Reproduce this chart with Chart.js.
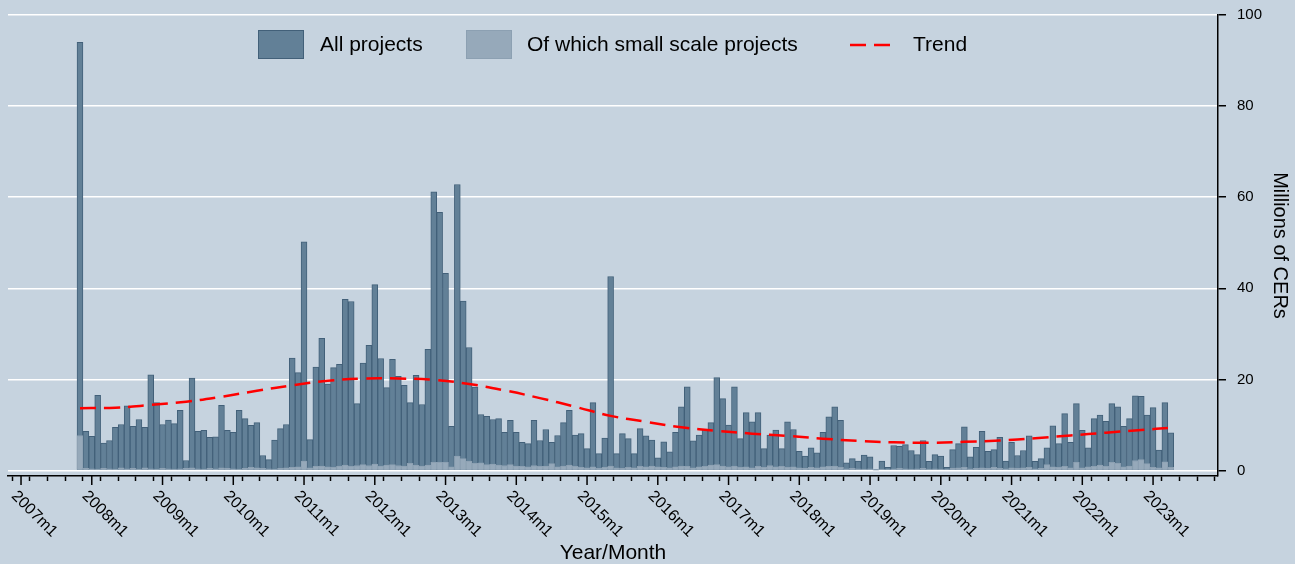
<!DOCTYPE html>
<html>
<head>
<meta charset="utf-8">
<title>CERs issued per month</title>
<script src="https://cdn.jsdelivr.net/npm/chart.js@4.4.0/dist/chart.umd.min.js"></script>
<style>
  html, body { margin: 0; padding: 0; background: #c6d3df; }
  #wrap { width: 1295px; height: 564px; position: relative; }
</style>
</head>
<body>
<div id="wrap"><canvas id="cerChart"></canvas></div>
<script>
// month index counted from 2007m1 = 0; first bar is 2007m11
const firstMonth = 10;

// Millions of CERs, all projects, one value per month
const allProjects = [
  94.0, 8.6,                                                              // 2007 m11-m12
  7.5, 16.5, 6.0, 6.6, 9.5, 10.1, 14.2, 9.7, 11.2, 9.5, 21.0, 14.9,       // 2008
  10.1, 11.1, 10.3, 13.2, 2.2, 20.3, 8.6, 8.8, 7.3, 7.4, 14.3, 8.8,       // 2009
  8.4, 13.2, 11.4, 9.9, 10.5, 3.3, 2.4, 6.7, 9.2, 10.1, 24.7, 21.5,       // 2010
  50.2, 6.8, 22.7, 29.0, 19.0, 22.6, 23.3, 37.6, 37.1, 14.7, 23.6, 27.5,  // 2011
  40.8, 24.6, 18.2, 24.4, 20.7, 18.7, 14.9, 20.9, 14.5, 26.6, 61.2, 56.7, // 2012
  43.3, 9.7, 62.8, 37.2, 27.0, 18.3, 12.3, 11.9, 11.2, 11.4, 8.4, 11.0,   // 2013
  8.4, 6.2, 5.9, 11.0, 6.6, 9.0, 6.2, 7.7, 10.5, 13.2, 7.8, 8.1,          // 2014
  4.8, 14.9, 3.7, 7.1, 42.6, 3.7, 8.1, 7.0, 3.7, 9.2, 7.6, 6.7,           // 2015
  2.8, 6.3, 4.1, 8.4, 14.0, 18.4, 6.5, 7.8, 9.0, 10.5, 20.4, 15.8,        // 2016
  10.0, 18.4, 7.0, 12.7, 10.7, 12.7, 4.8, 7.8, 8.9, 4.8, 10.7, 9.0,       // 2017
  4.2, 3.2, 5.0, 3.9, 8.4, 11.8, 14.0, 11.0, 1.7, 2.6, 2.1, 3.4,          // 2018
  3.0, 0.2, 2.1, 0.7, 5.5, 5.3, 5.7, 4.4, 3.5, 6.6, 2.0, 3.5,             // 2019
  3.2, 0.7, 4.6, 5.9, 9.6, 3.0, 5.1, 8.6, 4.2, 4.6, 7.3, 2.1,             // 2020
  6.2, 3.3, 4.4, 7.6, 2.0, 2.6, 5.0, 9.8, 5.9, 12.5, 6.2, 14.7,           // 2021
  8.8, 5.0, 11.4, 12.2, 10.8, 14.7, 14.0, 9.7, 11.4, 16.4, 16.3, 12.2,    // 2022
  13.8, 4.5, 14.9, 8.3                                                    // 2023 m1-m4
];

// of which small scale projects
const smallScale = [
  7.7, 0.5,
  0.4, 0.3, 0.5, 0.4, 0.3, 0.6, 0.4, 0.5, 0.3, 0.6, 0.4, 0.3,
  0.5, 0.4, 0.3, 0.4, 0.5, 0.6, 0.4, 0.3, 0.5, 0.4, 0.6, 0.5,
  0.4, 0.3, 0.5, 0.7, 0.6, 0.5, 0.4, 0.3, 0.5, 0.6, 0.7, 0.8,
  2.1, 0.6, 0.9, 1.0, 0.8, 0.7, 1.0, 1.2, 0.9, 1.1, 1.3, 1.1,
  1.4, 1.0, 1.2, 1.3, 1.1, 1.0, 1.6, 1.2, 1.0, 1.2, 1.8, 1.8,
  1.8, 0.8, 3.2, 2.6, 2.1, 1.6, 1.7, 1.3, 1.4, 1.2, 1.1, 1.3,
  1.0, 0.9, 0.8, 1.1, 0.9, 1.0, 1.5, 0.8, 1.0, 1.2, 0.9, 0.7,
  0.6, 0.8, 0.5, 0.7, 1.0, 0.6, 0.5, 0.7, 0.6, 0.9, 0.8, 1.0,
  0.8, 0.7, 0.6, 0.8, 1.0, 0.9, 0.6, 0.8, 0.9, 1.2, 1.3, 1.0,
  0.8, 1.0, 0.7, 0.8, 0.6, 0.9, 0.7, 1.1, 0.8, 0.9, 0.7, 0.8,
  0.6, 0.5, 0.7, 0.6, 0.8, 0.9, 1.0, 0.7, 0.4, 0.5, 0.4, 0.3,
  0.4, 0.1, 0.3, 0.2, 0.4, 0.5, 0.4, 0.3, 0.4, 0.5, 0.3, 0.4,
  0.3, 0.2, 0.5, 0.6, 0.7, 0.4, 0.5, 0.6, 0.5, 0.7, 0.5, 0.4,
  0.6, 0.5, 0.6, 0.7, 0.4, 0.5, 1.3, 0.8, 0.7, 0.9, 0.6, 1.8,
  0.6, 0.8, 0.9, 1.2, 0.9, 1.8, 1.6, 0.8, 1.0, 2.2, 2.4, 1.5,
  0.7, 0.6, 1.9, 0.7
];

// trend at these months
const trendMonths = [10, 16, 22, 28, 34, 40, 46, 52, 58, 64, 70, 76, 82, 88, 94, 100,
                     106, 112, 118, 124, 130, 136, 142, 148, 154, 160, 166, 172, 178, 184, 190, 195];
const trendValues = [13.7, 13.8, 14.4, 15.1, 16.2, 17.5, 18.7, 19.7, 20.2, 20.2, 19.9, 19.0, 17.6, 15.9, 14.0, 12.0,
                     10.7, 9.5, 8.7, 8.1, 7.6, 7.0, 6.5, 6.2, 6.1, 6.3, 6.6, 7.1, 7.7, 8.3, 8.9, 9.4];

const yearLabels = ['2007m1', '2008m1', '2009m1', '2010m1', '2011m1', '2012m1', '2013m1', '2014m1', '2015m1',
                    '2016m1', '2017m1', '2018m1', '2019m1', '2020m1', '2021m1', '2022m1', '2023m1'];
const yTicks = [0, 20, 40, 60, 80, 100];

const bgColor = '#c6d3df';
const barFill = 'rgb(98,128,151)';
const barLine = 'rgb(66,96,121)';
const smallFill = 'rgb(150,169,186)';
const smallLine = 'rgb(140,160,178)';
const FONT = '"Liberation Sans", Arial, sans-serif';

const toPoints = (vals) => vals.map((v, i) => ({ x: firstMonth + i, y: v }));

const backgroundPlugin = {
  id: 'bg',
  beforeDraw(chart) {
    const ctx = chart.ctx;
    ctx.save();
    ctx.fillStyle = bgColor;
    ctx.fillRect(0, 0, chart.width, chart.height);
    ctx.restore();
  }
};

// year ticks + rotated labels + axis title (labels go down-right from the tick)
const xLabelsPlugin = {
  id: 'xLabels',
  afterDraw(chart) {
    const x = chart.scales.x;
    const ctx = chart.ctx;
    const y0 = x.top;
    ctx.save();
    ctx.strokeStyle = '#000';
    ctx.lineWidth = 1.5;
    ctx.fillStyle = '#000';
    yearLabels.forEach((lab, i) => {
      const px = x.getPixelForValue(i * 12);
      ctx.beginPath();
      ctx.moveTo(px, y0);
      ctx.lineTo(px, y0 + 9);
      ctx.stroke();
      ctx.save();
      ctx.translate(px - 1.5, y0 + 12);
      ctx.rotate(Math.PI / 4);
      ctx.font = '16px ' + FONT;
      ctx.textAlign = 'left';
      ctx.textBaseline = 'top';
      ctx.fillText(lab, 0, 0);
      ctx.restore();
    });
    ctx.font = '21px ' + FONT;
    ctx.textAlign = 'center';
    ctx.textBaseline = 'alphabetic';
    ctx.fillText('Year/Month', (x.left + x.right) / 2, chart.height - 5);
    ctx.restore();
  }
};

// legend inside the plot region, top
const legendPlugin = {
  id: 'innerLegend',
  afterDraw(chart) {
    const ctx = chart.ctx;
    ctx.save();
    ctx.font = '21px ' + FONT;
    ctx.fillStyle = '#000';
    ctx.textBaseline = 'middle';
    ctx.textAlign = 'left';

    ctx.fillStyle = barFill;
    ctx.strokeStyle = barLine;
    ctx.lineWidth = 1;
    ctx.fillRect(258, 30, 46, 29);
    ctx.strokeRect(258.5, 30.5, 45, 28);
    ctx.fillStyle = '#000';
    ctx.fillText('All projects', 320, 45);

    ctx.fillStyle = smallFill;
    ctx.strokeStyle = smallLine;
    ctx.fillRect(466, 30, 46, 29);
    ctx.strokeRect(466.5, 30.5, 45, 28);
    ctx.fillStyle = '#000';
    ctx.fillText('Of which small scale projects', 527, 45);

    ctx.strokeStyle = 'rgb(255,0,0)';
    ctx.lineWidth = 2.5;
    ctx.setLineDash([16, 8]);
    ctx.beginPath();
    ctx.moveTo(850, 45);
    ctx.lineTo(897, 45);
    ctx.stroke();
    ctx.setLineDash([]);
    ctx.fillText('Trend', 913, 45);
    ctx.restore();
  }
};

const ctx = document.getElementById('cerChart').getContext('2d');

new Chart(ctx, {
  data: {
    datasets: [
      {
        type: 'line',
        label: 'Trend',
        data: trendMonths.map((m, i) => ({ x: m, y: trendValues[i] })),
        borderColor: 'rgb(255,0,0)',
        borderWidth: 2.5,
        borderDash: [16, 8],
        pointRadius: 0,
        tension: 0.4,
        fill: false,
        order: 0
      },
      {
        type: 'bar',
        label: 'Of which small scale projects',
        data: toPoints(smallScale),
        backgroundColor: smallFill,
        borderColor: smallLine,
        borderWidth: 1,
        grouped: false,
        barPercentage: 1,
        categoryPercentage: 1,
        order: 1
      },
      {
        type: 'bar',
        label: 'All projects',
        data: toPoints(allProjects),
        backgroundColor: barFill,
        borderColor: barLine,
        borderWidth: 1,
        grouped: false,
        barPercentage: 1,
        categoryPercentage: 1,
        order: 2
      }
    ]
  },
  options: {
    responsive: true,
    maintainAspectRatio: false,
    animation: false,
    layout: { padding: { left: 8, right: 0, top: 15, bottom: 83 } },
    plugins: {
      legend: { display: false },
      tooltip: { enabled: false }
    },
    scales: {
      x: {
        type: 'linear',
        min: -0.7,
        max: 201.5,
        afterBuildTicks: (scale) => {
          const t = [];
          for (let m = 0; m <= 201; m += 3) t.push({ value: m });
          scale.ticks = t;
        },
        ticks: { display: false },
        grid: {
          display: true,
          drawOnChartArea: false,
          drawTicks: true,
          tickLength: 5,
          tickColor: '#000',
          tickWidth: 1.5,
          color: '#000'
        },
        border: { display: true, color: '#000', width: 1.5 }
      },
      y: {
        type: 'linear',
        position: 'right',
        min: -1.2,
        max: 100,
        afterBuildTicks: (scale) => {
          scale.ticks = yTicks.map(v => ({ value: v }));
        },
        afterFit: (scale) => {
          scale.paddingTop = 0;
        },
        ticks: {
          color: '#000',
          padding: 11,
          font: { family: FONT, size: 15 }
        },
        grid: {
          color: '#ffffff',
          lineWidth: 1.5,
          drawTicks: true,
          tickLength: 8,
          tickColor: '#000',
          tickWidth: 1.5
        },
        border: { display: true, color: '#000', width: 1.5 },
        title: {
          display: true,
          text: 'Millions of CERs',
          color: '#000',
          font: { family: FONT, size: 20 },
          padding: { top: 3, bottom: -5 }
        }
      }
    }
  },
  plugins: [backgroundPlugin, xLabelsPlugin, legendPlugin]
});
</script>
</body>
</html>
